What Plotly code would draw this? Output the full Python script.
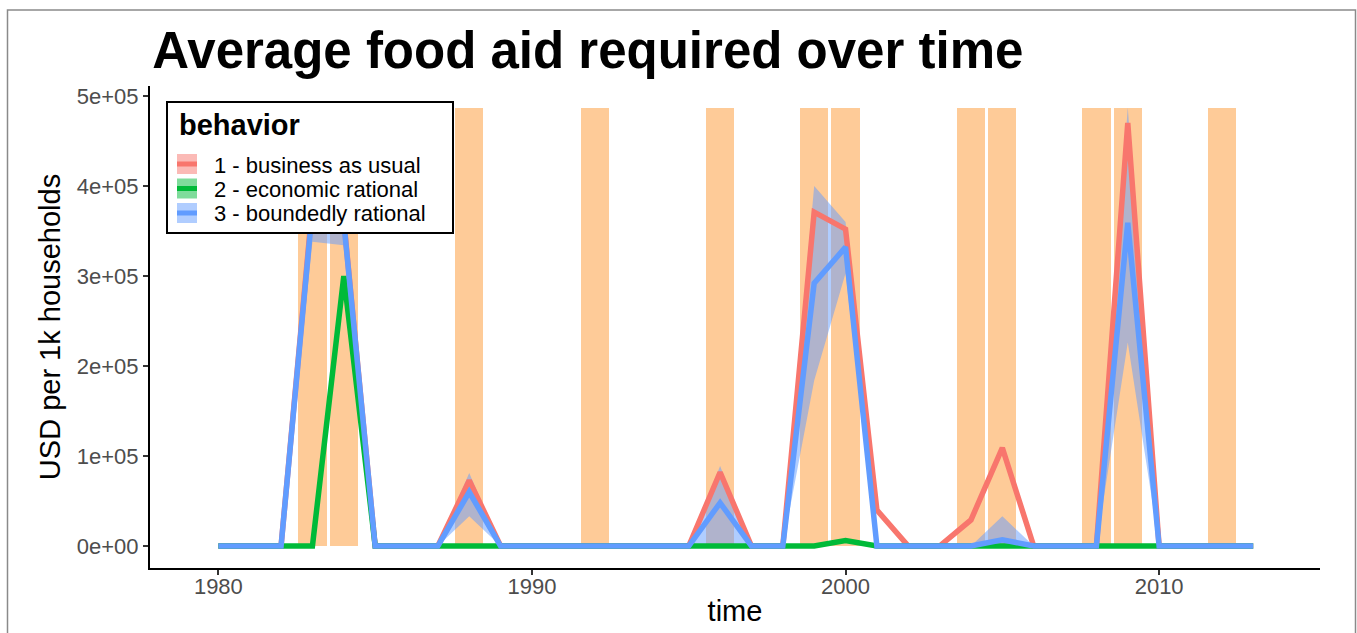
import plotly.graph_objects as go

# ---- data ----
years = list(range(1980, 2014))

business_as_usual = [0, 0, 0, 380000, 362000, 0, 0, 0, 73000, 0,
                     0, 0, 0, 0, 0, 0, 82000, 0, 0, 371000,
                     352000, 40000, 0, 0, 29000, 109000, 0, 0, 0, 470000,
                     0, 0, 0, 0]
economic_rational = [0, 0, 0, 0, 300000, 0, 0, 0, 0, 0,
                     0, 0, 0, 0, 0, 0, 0, 0, 0, 0,
                     6000, 0, 0, 0, 0, 1000, 0, 0, 0, 0,
                     0, 0, 0, 0]
boundedly_rational = [0, 0, 0, 375000, 360000, 0, 0, 0, 60000, 0,
                      0, 0, 0, 0, 0, 0, 48000, 0, 0, 292000,
                      332000, 0, 0, 0, 0, 7000, 0, 0, 0, 359000,
                      0, 0, 0, 0]
boundedly_upper = [0, 0, 0, 410000, 385000, 0, 0, 0, 81000, 0,
                   0, 0, 0, 0, 0, 0, 89000, 0, 0, 400000,
                   360000, 0, 0, 0, 0, 33000, 0, 0, 0, 487000,
                   0, 0, 0, 0]
boundedly_lower = [0, 0, 0, 338000, 334000, 0, 0, 0, 33000, 0,
                   0, 0, 0, 0, 0, 0, 0, 0, 0, 184000,
                   303000, 0, 0, 0, 0, 0, 0, 0, 0, 226000,
                   0, 0, 0, 0]

drought_years = [1983, 1984, 1988, 1992, 1996, 1999, 2000, 2004, 2005, 2008, 2009, 2012]
drought_heights = [487000] * len(drought_years)

series_names = ["1 - business as usual", "2 - economic rational", "3 - boundedly rational"]
series_colors = ["#F8766D", "#00BA38", "#619CFF"]
series_key_fill = ["rgba(248,118,109,0.5)", "rgba(0,186,56,0.5)", "rgba(97,156,255,0.5)"]

y_tickvals = [0, 100000, 200000, 300000, 400000, 500000]
y_ticktext = ["0e+00", "1e+05", "2e+05", "3e+05", "4e+05", "5e+05"]
x_tickvals = [1980, 1990, 2000, 2010]

FONT = "Liberation Sans, Arial, sans-serif"

# layout geometry (pixels)
W, H = 1357, 633
L, R, T, B = 150, 37, 86, 65
PW, PH = W - L - R, H - T - B


def px_x(p):
    return (p - L) / PW


def px_y(p):
    return (H - B - p) / PH


fig = go.Figure()

# drought bars
fig.add_trace(go.Bar(
    x=drought_years, y=drought_heights, width=0.9,
    marker=dict(color="rgb(254,203,152)", line=dict(width=0)),
    showlegend=False, hoverinfo="skip"))

# ribbon for boundedly rational
fig.add_trace(go.Scatter(
    x=years + years[::-1],
    y=boundedly_upper + boundedly_lower[::-1],
    fill="toself", fillcolor="rgba(97,156,255,0.5)",
    line=dict(width=0), mode="lines",
    showlegend=False, hoverinfo="skip"))

for name, vals, col in zip(series_names,
                           [business_as_usual, economic_rational, boundedly_rational],
                           series_colors):
    fig.add_trace(go.Scatter(
        x=years, y=vals, mode="lines", name=name,
        line=dict(color=col, width=5.5, shape="linear"),
        showlegend=False))

fig.update_layout(
    width=W, height=H,
    margin=dict(l=L, r=R, t=T, b=B),
    paper_bgcolor="white", plot_bgcolor="white",
    font=dict(family=FONT, color="black"),
    title=dict(text="<b>Average food aid required over time</b>",
               font=dict(size=51, color="black", family=FONT),
               x=0.002, xref="paper", xanchor="left",
               y=1 - 50 / H, yref="container", yanchor="middle"),
    bargap=0,
    showlegend=False,
)

fig.update_xaxes(
    range=[1977.82, 2015.13],
    tickvals=x_tickvals,
    showline=True, linecolor="black", linewidth=2,
    ticks="outside", ticklen=5, tickwidth=1.5, tickcolor="#333333",
    tickfont=dict(size=22, color="#4D4D4D"),
    ticklabelstandoff=-7,
    showgrid=False, zeroline=False, automargin=False,
    title=dict(text="time", font=dict(size=29, color="black"), standoff=2),
)
fig.update_yaxes(
    range=[-24400, 511000],
    tickvals=y_tickvals, ticktext=y_ticktext,
    showline=True, linecolor="black", linewidth=2,
    ticks="outside", ticklen=5, tickwidth=1.5, tickcolor="#333333",
    tickfont=dict(size=22, color="#4D4D4D"),
    showgrid=False, zeroline=False, automargin=False,
    title=dict(text="USD per 1k households", font=dict(size=29, color="black"), standoff=8),
)

# outer grey frame of the figure
fig.add_shape(type="rect", xref="paper", yref="paper",
              x0=px_x(7.5), x1=px_x(1355.5), y0=px_y(645), y1=px_y(10),
              line=dict(color="#8a8a8a", width=1.5), fillcolor="rgba(0,0,0,0)",
              layer="below")

# ---- legend (ggplot style: box, title, keys with ribbon fill + line) ----
fig.add_shape(type="rect", xref="paper", yref="paper",
              x0=px_x(167), x1=px_x(453), y0=px_y(233), y1=px_y(102),
              line=dict(color="black", width=2), fillcolor="white", layer="above")
fig.add_annotation(text="<b>behavior</b>", xref="paper", yref="paper",
                   x=px_x(177), y=px_y(125), xanchor="left", yanchor="middle",
                   showarrow=False, font=dict(size=29, color="black", family=FONT))
key_centers = [164, 188.5, 213]
for i, (name, col, kf) in enumerate(zip(series_names, series_colors, series_key_fill)):
    cy = key_centers[i]
    fig.add_shape(type="rect", xref="paper", yref="paper",
                  x0=px_x(177), x1=px_x(197), y0=px_y(cy + 10), y1=px_y(cy - 10),
                  line=dict(width=0), fillcolor=kf, layer="above")
    fig.add_shape(type="line", xref="paper", yref="paper",
                  x0=px_x(177), x1=px_x(197), y0=px_y(cy), y1=px_y(cy),
                  line=dict(color=col, width=5), layer="above")
    fig.add_annotation(text=name, xref="paper", yref="paper",
                       x=px_x(212), y=px_y(cy + 1), xanchor="left", yanchor="middle",
                       showarrow=False, font=dict(size=22, color="black", family=FONT))

fig.write_html("out.html")
